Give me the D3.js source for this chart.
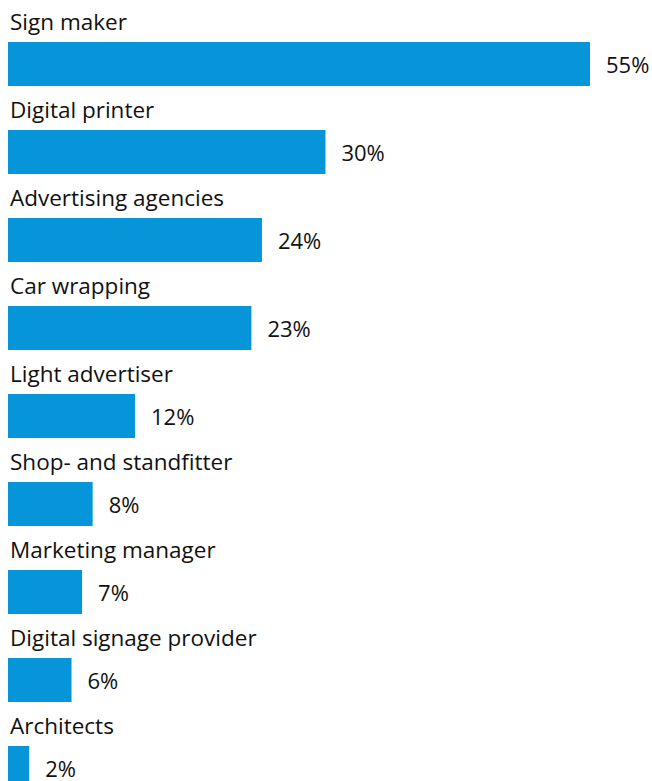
<!DOCTYPE html>
<html><head><meta charset="utf-8">
<script src="https://cdn.jsdelivr.net/npm/d3@7"></script>
<style>body{margin:0;background:#fff;} text{font-family:"Open Sans",sans-serif;}</style>
</head><body>
<svg id="c" width="652" height="781"></svg>
<script>
const categories = ["Sign maker","Digital printer","Advertising agencies","Car wrapping","Light advertiser","Shop- and standfitter","Marketing manager","Digital signage provider","Architects"];
const values = [55,30,24,23,12,8,7,6,2];
const data = categories.map((c,i)=>({c, v:values[i]}));
const svg = d3.select("#c");
const x = d3.scaleLinear().domain([0,55]).range([8,590]);
const y = d3.scaleBand().domain(categories).range([42, 42+88*categories.length]).padding(0);
const bh = y.bandwidth()*0.5;
const g = svg.selectAll("g.row").data(data).join("g").attr("class","row");
g.append("rect").attr("x",x(0)).attr("y",d=>y(d.c)).attr("width",d=>x(d.v)-x(0)).attr("height",bh).attr("fill","#0795DA");
g.append("text").attr("x",10).attr("y",d=>y(d.c)-12).attr("font-size",22.5).attr("fill","#111").text(d=>d.c);
g.append("text").attr("x",d=>x(d.v)+16).attr("y",d=>y(d.c)+31).attr("font-size",22).attr("fill","#111").text(d=>d.v+"%");
</script>
</body></html>
